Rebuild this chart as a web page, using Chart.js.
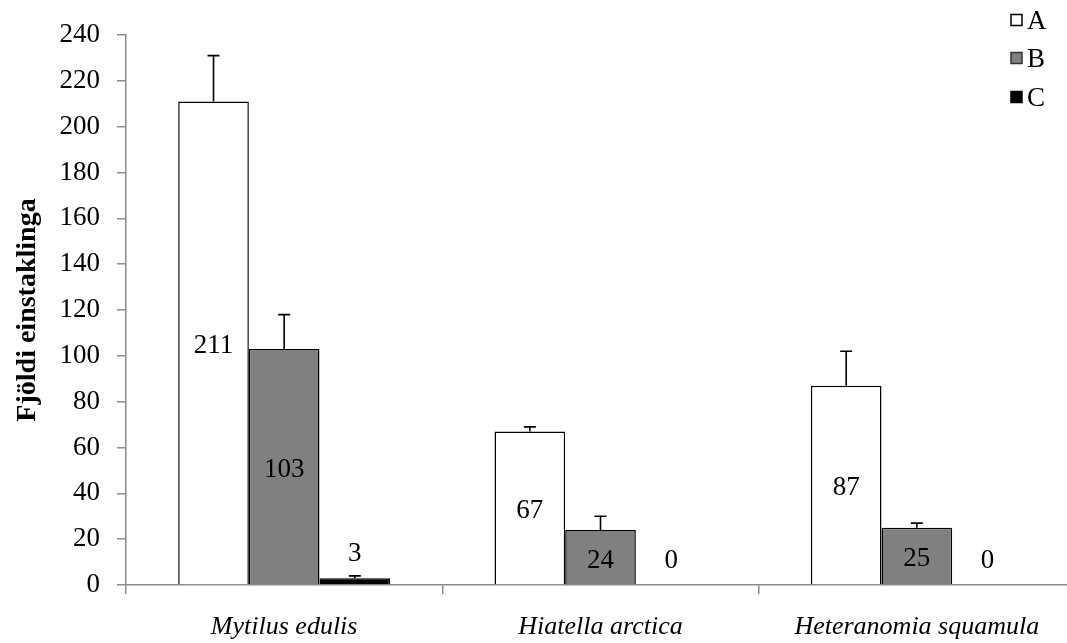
<!DOCTYPE html>
<html>
<head>
<meta charset="utf-8">
<script src="https://cdn.jsdelivr.net/npm/chart.js@4/dist/chart.umd.min.js"></script>
<style>
  html, body { margin: 0; padding: 0; background: #ffffff; overflow: hidden; }
  #wrap { position: relative; width: 1076px; height: 643px; }
</style>
</head>
<body>
<div id="wrap"><canvas id="c"></canvas></div>
<script>
// ---- Data ----
const categories = ['Mytilus edulis', 'Hiatella arctica', 'Heteranomia squamula'];
const seriesNames = ['A', 'B', 'C'];
const valuesA = [211, 67, 87];
const valuesB = [103, 24, 25];
const valuesC = [3, 0, 0];
const errorsA = [20, 2, 15];
const errorsB = [15, 6, 2];
const errorsC = [1, 0, 0];
const yMin = 0, yMax = 240, yStep = 20;
const yTitle = 'Fjöldi einstaklinga';

const SERIF = '"Liberation Serif", "DejaVu Serif", serif';
const fills = ['#ffffff', '#808080', '#000000'];
const errorSets = [errorsA, errorsB, errorsC];

const errorBarPlugin = {
  id: 'errorBars',
  afterDatasetsDraw(chart) {
    const ctx = chart.ctx;
    const y = chart.scales.y;
    ctx.save();
    ctx.strokeStyle = '#000';
    ctx.lineWidth = 1.6;
    chart.data.datasets.forEach((ds, di) => {
      const meta = chart.getDatasetMeta(di);
      meta.data.forEach((bar, i) => {
        const err = errorSets[di][i];
        if (!err) return;
        const v = ds.data[i];
        const yTop = y.getPixelForValue(v + err);
        const yBase = y.getPixelForValue(v);
        ctx.beginPath();
        ctx.moveTo(bar.x, yBase);
        ctx.lineTo(bar.x, yTop);
        ctx.moveTo(bar.x - 6, yTop);
        ctx.lineTo(bar.x + 6, yTop);
        ctx.stroke();
      });
    });
    ctx.restore();
  }
};

const dataLabelPlugin = {
  id: 'dataLabels',
  afterDatasetsDraw(chart) {
    const ctx = chart.ctx;
    const y = chart.scales.y;
    ctx.save();
    ctx.font = '27px ' + SERIF;
    ctx.fillStyle = '#000';
    ctx.textAlign = 'center';
    ctx.textBaseline = 'middle';
    chart.data.datasets.forEach((ds, di) => {
      const meta = chart.getDatasetMeta(di);
      meta.data.forEach((bar, i) => {
        const v = ds.data[i];
        let ly;
        if (v >= 10) {
          ly = (y.getPixelForValue(v) + y.getPixelForValue(0)) / 2 + 3;
        } else {
          ly = y.getPixelForValue(v) - 24;
        }
        ctx.fillText(String(v), bar.x, ly);
      });
    });
    ctx.restore();
  }
};

const legendPlugin = {
  id: 'customLegend',
  afterDraw(chart) {
    const ctx = chart.ctx;
    ctx.save();
    const x0 = 1011, size = 11;
    const centers = [20, 58, 97];
    ctx.font = '27px ' + SERIF;
    ctx.textAlign = 'left';
    ctx.textBaseline = 'middle';
    seriesNames.forEach((name, i) => {
      const cy = centers[i];
      ctx.fillStyle = fills[i];
      ctx.fillRect(x0, cy - size / 2, size, size);
      ctx.strokeStyle = i === 1 ? '#333' : '#000';
      ctx.lineWidth = 1.5;
      ctx.strokeRect(x0, cy - size / 2, size, size);
      ctx.fillStyle = '#000';
      ctx.fillText(name, x0 + 16, cy + 2);
    });
    ctx.restore();
  }
};

const datasets = [valuesA, valuesB, valuesC].map((vals, i) => ({
  label: seriesNames[i],
  data: vals,
  backgroundColor: fills[i],
  borderColor: '#000',
  borderWidth: 1.5,
  categoryPercentage: 0.67,
  barPercentage: 1.0
}));

new Chart(document.getElementById('c'), {
  type: 'bar',
  data: { labels: categories, datasets },
  plugins: [errorBarPlugin, dataLabelPlugin, legendPlugin],
  options: {
    responsive: true,
    maintainAspectRatio: false,
    animation: false,
    layout: { padding: { top: 35, right: 1, bottom: 0, left: 0 } },
    plugins: {
      legend: { display: false },
      tooltip: { enabled: false }
    },
    scales: {
      x: {
        offset: true,
        afterFit(scale) { scale.height = 58; },
        border: { display: true, color: '#8c8c8c', width: 1.5 },
        grid: { display: true, drawOnChartArea: false, drawTicks: true, tickLength: 9, color: '#8c8c8c', lineWidth: 1.5, offset: true },
        ticks: { color: '#000', padding: 18, maxRotation: 0, font: { family: SERIF, size: 26, style: 'italic' } }
      },
      y: {
        min: yMin,
        max: yMax,
        afterFit(scale) { scale.width = 126; },
        border: { display: true, color: '#8c8c8c', width: 1.5 },
        grid: { display: true, drawOnChartArea: false, drawTicks: true, tickLength: 9, color: '#8c8c8c', lineWidth: 1.5 },
        ticks: { stepSize: yStep, color: '#000', padding: 17, font: { family: SERIF, size: 27 } },
        title: {
          display: true,
          text: yTitle,
          color: '#000',
          padding: { top: 11, bottom: 0 },
          font: { family: SERIF, size: 28, weight: 'bold' }
        }
      }
    }
  }
});
</script>
</body>
</html>
